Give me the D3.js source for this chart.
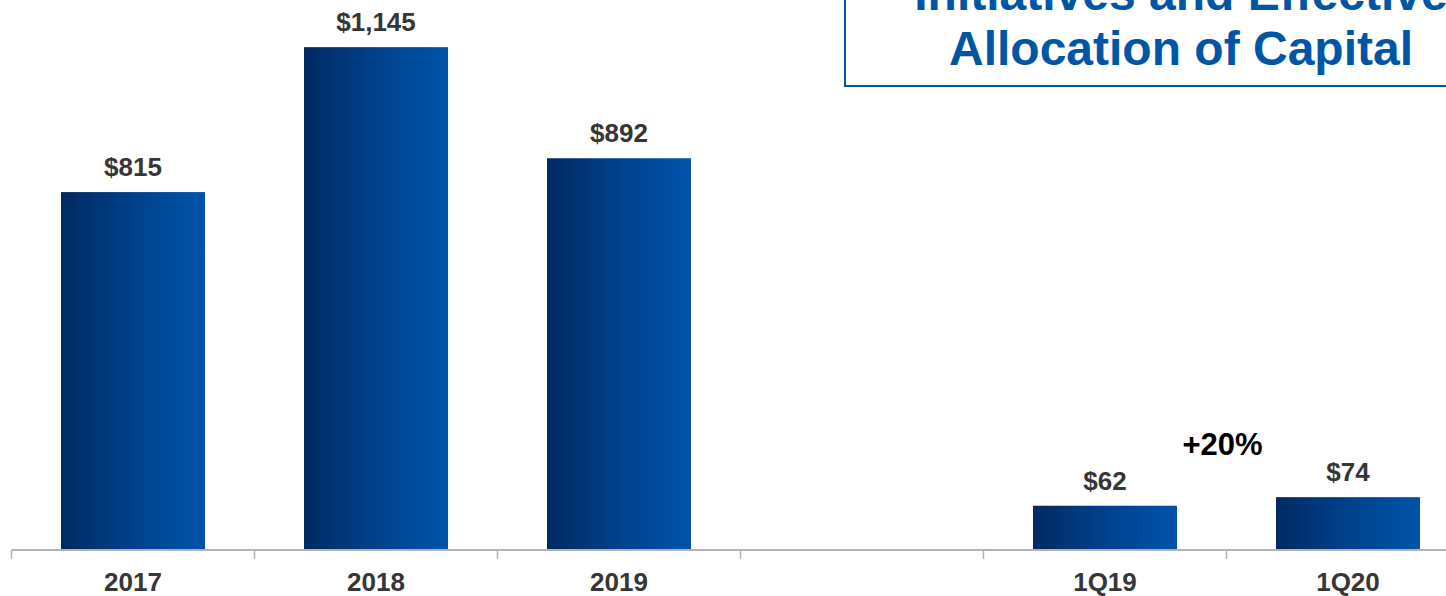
<!DOCTYPE html>
<meta charset="utf-8">
<style>
  body { margin: 0; background: #fff; }
  svg { display: block; font-family: "Liberation Sans", Arial, sans-serif; }
  .value { font-size: 26px; font-weight: bold; fill: #363636; text-anchor: middle; }
  .cat { font-size: 26px; font-weight: bold; fill: #363636; text-anchor: middle; }
  .growth { font-size: 31px; font-weight: bold; fill: #000; text-anchor: middle; }
  .title { font-size: 48px; font-weight: bold; fill: #0055a5; text-anchor: middle; }
</style>
<body>
<svg></svg>
<script src="https://cdn.jsdelivr.net/npm/d3@7"></script>
<script>
// annual values ($)
const years = ["2017", "2018", "2019"];
const yearValues = [815, 1145, 892];
// quarterly values ($), drawn on their own scale
const quarters = ["1Q19", "1Q20"];
const quarterValues = [62, 74];
const growthLabel = "+20%";
const titleLines = ["Initiatives and Effective", "Allocation of Capital"];

const width = 1446, height = 596;
const baseY = 550;

const svg = d3.select("svg")
  .attr("width", width)
  .attr("height", height);

// band slots: three years, one empty slot, two quarters
const slots = years.concat(["gap"], quarters);
const x = d3.scaleBand()
  .domain(slots)
  .range([11.5, 11.5 + 243 * slots.length])
  .padding(0);

const barW = 144;

const yYear = d3.scaleLinear().domain([0, 1200]).range([baseY, 23]);
const yQuarter = d3.scaleLinear().domain([0, 100]).range([baseY, 478.6]);

// gradient for bars
const grad = svg.append("defs").append("linearGradient")
  .attr("id", "barGrad")
  .attr("x1", "0%").attr("x2", "100%")
  .attr("y1", "0%").attr("y2", "0%");
grad.append("stop").attr("offset", "0%").attr("stop-color", "#002a62");
grad.append("stop").attr("offset", "50%").attr("stop-color", "#00418c");
grad.append("stop").attr("offset", "100%").attr("stop-color", "#0054ab");

const bars = years.map((c, i) => ({cat: c, v: yearValues[i], y: yYear, label: "$" + d3.format(",")(yearValues[i])}))
  .concat(quarters.map((c, i) => ({cat: c, v: quarterValues[i], y: yQuarter, label: "$" + quarterValues[i]})));

svg.selectAll("rect.bar")
  .data(bars)
  .enter().append("rect")
  .attr("class", "bar")
  .attr("x", d => x(d.cat) + (x.bandwidth() - barW) / 2)
  .attr("y", d => d.y(d.v))
  .attr("width", barW)
  .attr("height", d => baseY - d.y(d.v))
  .attr("fill", "url(#barGrad)");

svg.selectAll("text.value")
  .data(bars)
  .enter().append("text")
  .attr("class", "value")
  .attr("x", d => x(d.cat) + x.bandwidth() / 2)
  .attr("y", d => d.y(d.v) - 16)
  .text(d => d.label);

// axis line with ticks on the slot boundaries
const axis = svg.append("g");
axis.append("line")
  .attr("x1", x.range()[0]).attr("x2", width)
  .attr("y1", baseY).attr("y2", baseY)
  .attr("stroke", "#b3b3b3").attr("stroke-width", 2);
axis.selectAll("line.tick")
  .data(slots)
  .enter().append("line")
  .attr("class", "tick")
  .attr("x1", d => x(d)).attr("x2", d => x(d))
  .attr("y1", baseY).attr("y2", baseY + 9)
  .attr("stroke", "#b3b3b3").attr("stroke-width", 1.5);

axis.selectAll("text.cat")
  .data(slots.filter(d => d !== "gap"))
  .enter().append("text")
  .attr("class", "cat")
  .attr("x", d => x(d) + x.bandwidth() / 2)
  .attr("y", 591)
  .text(d => d);

// growth annotation between the quarters
svg.append("text")
  .attr("class", "growth")
  .attr("x", x("1Q20") - 4)
  .attr("y", 455)
  .text(growthLabel);

// title box, clipped by the top and right edges
svg.append("rect")
  .attr("x", 845).attr("y", -60)
  .attr("width", 700).attr("height", 146)
  .attr("fill", "#fff")
  .attr("stroke", "#0055a5").attr("stroke-width", 2);

svg.selectAll("text.title")
  .data(titleLines)
  .enter().append("text")
  .attr("class", "title")
  .attr("x", 1181)
  .attr("y", (d, i) => 10 + i * 55)
  .text(d => d);
</script>
</body>
